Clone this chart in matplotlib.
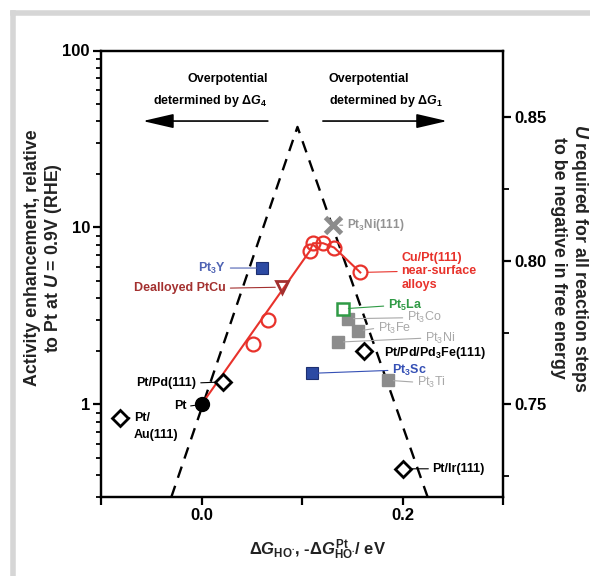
import matplotlib
matplotlib.use('Agg')
import matplotlib.pyplot as plt
import numpy as np
from matplotlib.lines import Line2D
from matplotlib.ticker import FixedLocator, FixedFormatter, LogLocator, NullFormatter

plt.rcParams['font.family'] = ['Liberation Sans', 'DejaVu Sans']
plt.rcParams['mathtext.fontset'] = 'custom'
plt.rcParams['mathtext.rm'] = 'Liberation Sans:bold'
plt.rcParams['mathtext.it'] = 'Liberation Sans:italic:bold'
plt.rcParams['mathtext.bf'] = 'Liberation Sans:bold'
plt.rcParams['mathtext.sf'] = 'Liberation Sans'

# volcano (dashed)
volcano_x = [-0.030, 0.0955, 0.225]
volcano_y = [0.3, 37.0, 0.3]

# Cu/Pt(111) near-surface alloys
cupt_x = [0.051, 0.066, 0.108, 0.111, 0.121, 0.132, 0.158]
cupt_y = [2.20, 3.00, 7.4, 8.15, 8.15, 7.7, 5.57]
# red guide line
red_x = [0.0, 0.108, 0.111, 0.121, 0.132, 0.158]
red_y = [1.0, 7.4, 8.15, 8.15, 7.7, 5.57]

pt_x, pt_y = 0.0, 1.0

diam_names = ['Pt/Pd(111)', 'Pt/Au(111)', 'Pt/Ir(111)', 'Pt/Pd/Pd$_3$Fe(111)']
diam_x = [0.021, -0.081, 0.200, 0.162]
diam_y = [1.34, 0.84, 0.433, 2.0]

gray_names = ['Pt$_\\mathsf{3}$Co', 'Pt$_\\mathsf{3}$Fe', 'Pt$_\\mathsf{3}$Ni', 'Pt$_\\mathsf{3}$Ti']
gray_x = [0.1456, 0.1555, 0.1357, 0.1854]
gray_y = [3.05, 2.60, 2.25, 1.37]

blue_names = ['Pt$_3$Y', 'Pt$_3$Sc']
blue_x = [0.0604, 0.110]
blue_y = [5.9, 1.50]

la_x, la_y = 0.1406, 3.47
ptcu_x, ptcu_y = 0.0803, 4.6
pt3ni111_x, pt3ni111_y = 0.1307, 10.3

# U axis: U = 0.75 V at activity 1, 0.0615 V per decade
u_ref, u_per_decade = 0.75, 0.0615
xticks = [-0.1, 0.0, 0.1, 0.2, 0.3]
xticklabels = ['', '0.0', '', '0.2', '']

RED = '#e8322b'
DRED = '#a3302f'
BLUE = '#2c4aa3'
LBLUE = '#4f63b3'
GREEN = '#2f9a45'
GRAY = '#8c8c8c'
LGRAY = '#a8a8a8'

fig = plt.figure(figsize=(5.9, 5.76), dpi=100)
ax = fig.add_axes([101/590, 1-497/576, 402/590, 446.5/576])
ax.set_yscale('log')
ax.set_xlim(-0.1, 0.3)
ax.set_ylim(0.3, 100)

ax.plot(volcano_x, volcano_y, color='k', lw=1.7, ls=(0, (5, 3.6)), zorder=2)
ax.plot(red_x, red_y, color=RED, lw=1.5, zorder=3)
ax.plot(cupt_x, cupt_y, 'o', ms=10, mfc='none', mec=RED, mew=1.6, zorder=4)
ax.plot(pt_x, pt_y, 'o', ms=10, color='k', zorder=5)
ax.plot(diam_x, diam_y, 'D', ms=8, mfc='white', mec='k', mew=2, zorder=5)
ax.plot(gray_x, gray_y, 's', ms=8, color=GRAY, zorder=5)
ax.plot(blue_x, blue_y, 's', ms=8, mfc=BLUE, mec='#1d2f70', mew=0.8, zorder=5)
ax.plot(la_x, la_y, 's', ms=8, mfc='white', mec=GREEN, mew=1.8, zorder=5)
ax.plot(ptcu_x, ptcu_y, 'v', ms=9, mfc='none', mec=DRED, mew=2, zorder=5)
ax.plot(pt3ni111_x, pt3ni111_y, 'x', ms=12, mec=GRAY, mew=3.5, zorder=5)


def tag(x, y, s, dx, dy, color, ha='left', line=True, weight='bold', size=9, shrink=4):
    ap = None
    if line:
        ap = dict(arrowstyle='-', color=color, lw=0.8, shrinkA=1, shrinkB=shrink,
                  relpos=(0.0 if ha == 'left' else 1.0, 0.5))
    ax.annotate(s, (x, y), xytext=(dx, dy), textcoords='offset pixels', ha=ha,
                va='center', color=color, fontsize=size, fontweight=weight,
                arrowprops=ap, zorder=6)


tag(pt_x, pt_y, 'Pt', -15, -2, 'k', ha='right', shrink=5)
tag(diam_x[0], diam_y[0], diam_names[0], -26, -1, 'k', ha='right', shrink=5)
tag(diam_x[1], diam_y[1], 'Pt/', 14, 0, 'k', shrink=5)
tag(diam_x[1], diam_y[1], 'Au(111)', 14, -17, 'k', line=False)
tag(diam_x[2], diam_y[2], diam_names[2], 30, 0, 'k', shrink=5)
tag(diam_x[3], diam_y[3], diam_names[3], 20, -2, 'k', line=False)
tag(pt3ni111_x, pt3ni111_y, 'Pt$_3$Ni(111)', 14, 0, '#939393', size=8.5, shrink=5)
tag(cupt_x[-1], cupt_y[-1], 'Cu/Pt(111)\nnear-surface\nalloys', 41, 1, RED, shrink=5)
tag(la_x, la_y, 'Pt$_5$La', 45, 3, GREEN)
for name, gx, gy, dx, dy in zip(gray_names, gray_x, gray_y, [59, 20, 87, 29], [1, 3, 4, -2]):
    tag(gx, gy, name, dx, dy, LGRAY, weight='normal', size=9)
tag(blue_x[0], blue_y[0], blue_names[0], -36, 0, LBLUE, ha='right')
tag(blue_x[1], blue_y[1], blue_names[1], 80, 3, '#3550b5')
tag(ptcu_x, ptcu_y, 'Dealloyed PtCu', -56, -1, DRED, ha='right', shrink=5)

# overpotential arrows
ax.annotate('', xy=(0.104, 0.842), xytext=(0.415, 0.842), xycoords='axes fraction',
            arrowprops=dict(arrowstyle='-|>,head_length=0.95,head_width=0.22',
                            mutation_scale=20, lw=1.2, color='k', shrinkA=0, shrinkB=0))
ax.annotate('', xy=(0.861, 0.842), xytext=(0.552, 0.842), xycoords='axes fraction',
            arrowprops=dict(arrowstyle='-|>,head_length=0.95,head_width=0.22',
                            mutation_scale=20, lw=1.2, color='k', shrinkA=0, shrinkB=0))
ax.text(0.415, 0.936, 'Overpotential', transform=ax.transAxes, ha='right', va='center',
        fontsize=9, fontweight='bold')
ax.text(0.415, 0.887, 'determined by $\\Delta G_4$', transform=ax.transAxes, ha='right',
        va='center', fontsize=9, fontweight='bold')
ax.text(0.567, 0.936, 'Overpotential', transform=ax.transAxes, ha='left', va='center',
        fontsize=9, fontweight='bold')
ax.text(0.567, 0.887, 'determined by $\\Delta G_1$', transform=ax.transAxes, ha='left',
        va='center', fontsize=9, fontweight='bold')

# axes styling
for sp in ax.spines.values():
    sp.set_linewidth(1.6)
ax.xaxis.set_major_locator(FixedLocator(xticks))
ax.xaxis.set_major_formatter(FixedFormatter(xticklabels))
ax.yaxis.set_major_locator(LogLocator(base=10))
ax.yaxis.set_minor_locator(LogLocator(base=10, subs=np.arange(2, 10)))
ax.yaxis.set_minor_formatter(NullFormatter())
ax.set_yticks([1, 10, 100])
ax.set_yticklabels(['1', '10', '100'])
ax.tick_params(which='major', direction='out', length=6, width=1.6, labelsize=12, pad=2)
ax.tick_params(which='minor', direction='out', length=3.5, width=1.3)
for lab in ax.get_xticklabels() + ax.get_yticklabels():
    lab.set_fontweight('bold')

ax2 = ax.twinx()
lo, hi = ax.get_ylim()
ax2.set_ylim(u_ref + u_per_decade * np.log10(lo), u_ref + u_per_decade * np.log10(hi))
ax2.set_yticks([0.75, 0.80, 0.85])
ax2.set_yticks([0.725, 0.775, 0.825], minor=True)
ax2.set_yticklabels(['0.75', '0.80', '0.85'])
for sp in ax2.spines.values():
    sp.set_linewidth(1.6)
ax2.tick_params(which='major', direction='out', length=6, width=1.6, labelsize=12, pad=2)
ax2.tick_params(which='minor', direction='out', length=4, width=1.3)
for lab in ax2.get_yticklabels():
    lab.set_fontweight('bold')

fig.text(44/590, 1-258/576, 'Activity enhancement, relative\nto Pt at $U$ = 0.9V (RHE)',
         rotation=90, ha='center', va='center', multialignment='center',
         fontsize=12.8, fontweight='bold', color='#222222', linespacing=1.15)
fig.text(570/590, 1-258/576, '$U$ required for all reaction steps\nto be negative in free energy',
         rotation=270, ha='center', va='center', multialignment='center',
         fontsize=12.8, fontweight='bold', color='#222222', linespacing=1.15)
fig.text(318/590, 1-550/576,
         '$\\Delta G_{\\mathrm{HO}^{\\bullet}}$, -$\\Delta G^{\\mathrm{Pt}}_{\\mathrm{HO}^{\\bullet}}$/ eV',
         ha='center', va='center', fontsize=12, fontweight='bold', color='#222222')

# card frame edges
fig.add_artist(Line2D([13/590, 13/590], [0, 1-13/576], transform=fig.transFigure,
                      color='#d6d6d6', lw=4))
fig.add_artist(Line2D([13/590, 1], [1-13/576, 1-13/576], transform=fig.transFigure,
                      color='#d6d6d6', lw=4))

fig.savefig('out.png', dpi=100)
